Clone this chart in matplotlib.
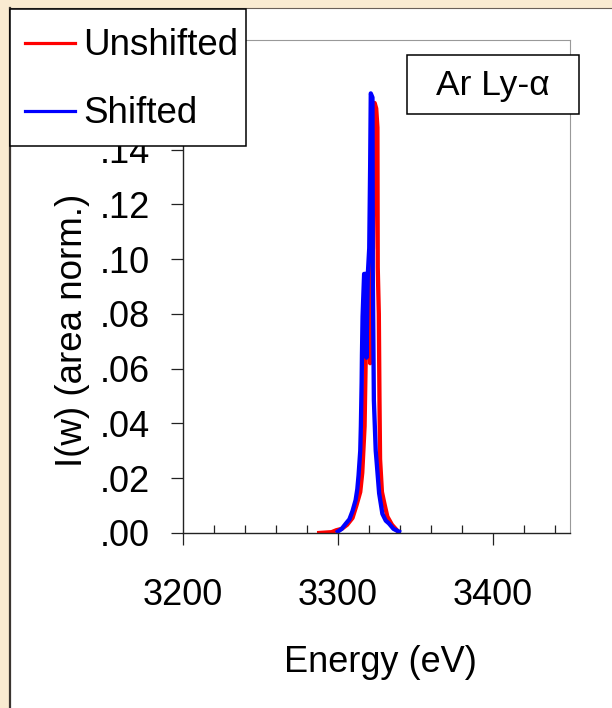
import matplotlib
matplotlib.use("Agg")
import matplotlib.pyplot as plt
from matplotlib.patches import Rectangle
from matplotlib.lines import Line2D
from matplotlib.ticker import MultipleLocator, FuncFormatter

plt.rcParams['font.family'] = ['Liberation Sans', 'DejaVu Sans']

# ---- data ----
unshifted_E = [3288, 3296, 3299, 3302.5, 3306, 3309.5, 3312, 3314.5, 3315.8, 3317.3,
               3318.0, 3318.4, 3319.4, 3320.5, 3320.9, 3321.8, 3322.7, 3323.3, 3323.8,
               3324.8, 3325.6, 3325.8, 3326.5, 3326.9, 3327.3, 3328.5, 3330, 3332,
               3335, 3338.5]
unshifted_I = [0.0, 0.0003, 0.001, 0.0015, 0.003, 0.0055, 0.010, 0.015, 0.022, 0.039,
               0.063, 0.079, 0.0946, 0.0946, 0.062, 0.0946, 0.104, 0.134, 0.157,
               0.155, 0.148, 0.097, 0.080, 0.050, 0.027, 0.015, 0.011, 0.006,
               0.003, 0.0008]

shifted_E = [3300, 3302.5, 3305.3, 3307.5, 3309.5, 3311.5, 3312.6, 3313.4, 3314.5, 3314.9,
             3315.4, 3315.6, 3316.0, 3317.0, 3318.1, 3318.5, 3319.4, 3320.3, 3320.9,
             3321.3, 3322.4, 3322.6, 3323.3, 3324.5, 3325.0, 3326.7, 3328.8, 3331,
             3333, 3336, 3339.5]
shifted_I = [0.0005, 0.0015, 0.0035, 0.005, 0.008, 0.012, 0.016, 0.021, 0.030, 0.039,
             0.055, 0.065, 0.079, 0.0946, 0.0946, 0.064, 0.0946, 0.104, 0.134,
             0.1605, 0.159, 0.0958, 0.0485, 0.030, 0.0266, 0.0145, 0.007, 0.0045,
             0.0035, 0.0015, 0.0005]

series_labels = ["Unshifted", "Shifted"]
series_colors = ['#ff0000', '#0000ff']
x_label = "Energy (eV)"
y_label = "I(w) (area norm.)"
annotation = "Ar Ly-\u03b1"

W, H = 612, 708
fig = plt.figure(figsize=(W / 100, H / 100), dpi=100)
fig.patch.set_facecolor('#f9ebd1')

def fx(px):
    return px / W

def fy(py):
    return 1 - py / H

# white panel with borders
fig.add_artist(Rectangle((fx(10), 0), 1, fy(8), transform=fig.transFigure,
                         facecolor='white', edgecolor='none', zorder=-10))
fig.add_artist(Line2D([fx(9.5), fx(9.5)], [0, fy(8)], transform=fig.transFigure,
                      color='#3a3530', lw=1.6, zorder=-9))
fig.add_artist(Line2D([fx(9), 1], [fy(8), fy(8)], transform=fig.transFigure,
                      color='#6a6058', lw=0.8, zorder=-9))

ax = fig.add_axes([fx(183), fy(533), fx(570) - fx(183), fy(40) - fy(533)])
ax.set_facecolor('white')

ax.plot(unshifted_E, unshifted_I, color=series_colors[0], lw=3.1, solid_joinstyle='round')
ax.plot(shifted_E, shifted_I, color=series_colors[1], lw=3.1, solid_joinstyle='round')

ax.set_xlim(3200, 3450)
ax.set_ylim(0, 0.18)
ax.xaxis.set_major_locator(MultipleLocator(100))
ax.xaxis.set_minor_locator(MultipleLocator(20))
ax.yaxis.set_major_locator(MultipleLocator(0.02))


def yfmt(v, p):
    # labels above .14 sit under the legend box in the original, so they are not shown
    if v > 0.145:
        return ""
    return ("%.2f" % v).lstrip('0')


ax.yaxis.set_major_formatter(FuncFormatter(yfmt))

ax.tick_params(axis='x', which='major', direction='out', length=8.6, width=0.9,
               color='#222222', pad=24, labelsize=26)
ax.tick_params(axis='x', which='minor', direction='in', length=5.8, width=0.9,
               color='#222222')
ax.tick_params(axis='y', which='major', direction='out', length=8.6, width=0.9,
               color='#222222', pad=15, labelsize=26)

for s in ['left', 'bottom']:
    ax.spines[s].set_color('#222222')
    ax.spines[s].set_linewidth(1.0)
for s in ['top', 'right']:
    ax.spines[s].set_color('#999999')
    ax.spines[s].set_linewidth(0.8)

fig.text(fx(380), fy(663), x_label, ha='center', va='center', fontsize=26)
fig.text(fx(73), fy(330), y_label, ha='center', va='center', rotation=90, fontsize=26.5)

# annotation box
fig.add_artist(Rectangle((fx(407), fy(114)), fx(579) - fx(407), fy(55) - fy(114),
                         transform=fig.transFigure, facecolor='white',
                         edgecolor='black', lw=1.1, zorder=5))
fig.text(fx(493), fy(85), annotation, ha='center', va='center', fontsize=25.5, zorder=6)

# legend box (drawn over the axes, as in the original)
fig.add_artist(Rectangle((fx(9.5), fy(145.5)), fx(246) - fx(9.5), fy(8.5) - fy(145.5),
                         transform=fig.transFigure, facecolor='white',
                         edgecolor='black', lw=1.1, zorder=20))
handle_y = [42.5, 110.5]
text_base = [55, 123]
for lab, col, hy, tb in zip(series_labels, series_colors, handle_y, text_base):
    fig.add_artist(Line2D([fx(25), fx(75)], [fy(hy), fy(hy)], transform=fig.transFigure,
                          color=col, lw=2.3, zorder=21))
    fig.text(fx(83), fy(tb), lab, ha='left', va='baseline', fontsize=26.5, zorder=22)

fig.savefig("out.png", dpi=100, facecolor=fig.get_facecolor())
